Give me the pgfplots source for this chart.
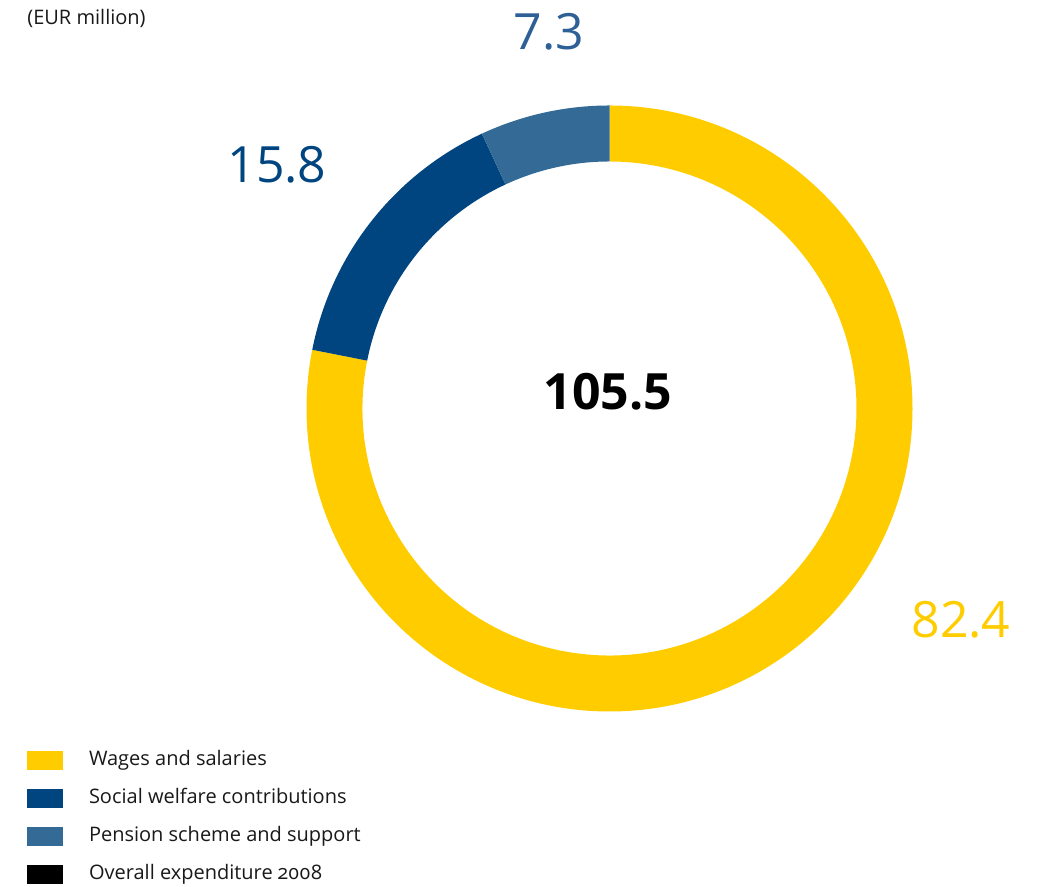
\documentclass[border=0pt]{standalone}
\usepackage{pgfplots}
\usepackage{pgfplotstable}
\pgfplotsset{compat=1.18}
\usepackage{fontspec}
\setmainfont{Open Sans}
\newfontfamily\osf[Numbers=OldStyle]{Open Sans}
\definecolor{wages}{RGB}{255,204,0}
\definecolor{social}{RGB}{0,69,127}
\definecolor{pension}{RGB}{51,106,150}
\definecolor{pensiontxt}{RGB}{46,96,150}

\pgfplotstableread{
label value color
Wages 82.4 wages
Social 15.8 social
Pension 7.3 pension
}\expdata

\begin{document}
\begin{tikzpicture}
\begin{axis}[
  scale only axis,
  width=520pt, height=443.5pt,
  xmin=0, xmax=1040, ymin=0, ymax=887,
  hide axis, clip=false,
  legend style={
    at={(axis cs:27,136)}, anchor=north west,
    draw=none, fill=none, inner sep=0pt, outer sep=0pt,
    row sep=9.5pt, column sep=13pt,
    nodes={inner sep=0pt, text height=7pt, text depth=2pt, anchor=west},
    font=\fontsize{10}{12}\selectfont, text=black!90,
  },
  legend cell align=left,
  legend image code/.code={\fill[#1, draw=none] (0pt,-4.75pt) rectangle (18pt,4.75pt);},
]
\coordinate (BL) at (rel axis cs:0,0);
\coordinate (TR) at (rel axis cs:1,1);

\def\total{0}
\pgfplotsforeachungrouped \i in {0,1,2}{%
  \pgfplotstablegetelem{\i}{value}\of\expdata
  \pgfmathsetmacro\total{\total+\pgfplotsretval}%
}
\def\cum{0}
\pgfplotsforeachungrouped \i in {0,1,2}{%
  \pgfplotstablegetelem{\i}{value}\of\expdata \let\segval=\pgfplotsretval
  \pgfplotstablegetelem{\i}{color}\of\expdata \let\segcol=\pgfplotsretval
  \pgfmathsetmacro\anga{90-\cum/\total*360}%
  \pgfmathsetmacro\cum{\cum+\segval}%
  \pgfmathsetmacro\angb{90-\cum/\total*360}%
  \edef\temp{\noexpand\fill[\segcol] (axis cs:609.5,478.5) ++(\anga:151.5pt)
     arc[start angle=\anga, end angle=\angb, radius=151.5pt]
     -- ++(\angb:-28pt)
     arc[start angle=\angb, end angle=\anga, radius=123.5pt] -- cycle;}%
  \temp
}

\addlegendimage{fill=wages}
\addlegendentry{Wages and salaries}
\addlegendimage{fill=social}
\addlegendentry{Social welfare contributions}
\addlegendimage{fill=pension}
\addlegendentry{Pension scheme and support}
\addlegendimage{fill=black}
\addlegendentry{Overall expenditure {\osf 2008}}

\node[font=\fontsize{10}{12}\selectfont, text=black!90, anchor=west, inner sep=0pt] at (axis cs:27,868) {(EUR million)};
\node[font=\fontsize{25}{30}\selectfont, text=pensiontxt] at (axis cs:549,855) {7.3};
\node[font=\fontsize{25}{30}\selectfont, text=social] at (axis cs:277,722) {15.8};
\node[font=\fontsize{25}{30}\selectfont, text=wages] at (axis cs:961,267) {82.4};
\node[font=\fontsize{25}{30}\selectfont\bfseries, text=black] at (axis cs:608,495) {105.5};
\end{axis}
\pgfresetboundingbox
\path (BL) rectangle (TR);
\end{tikzpicture}
\end{document}
